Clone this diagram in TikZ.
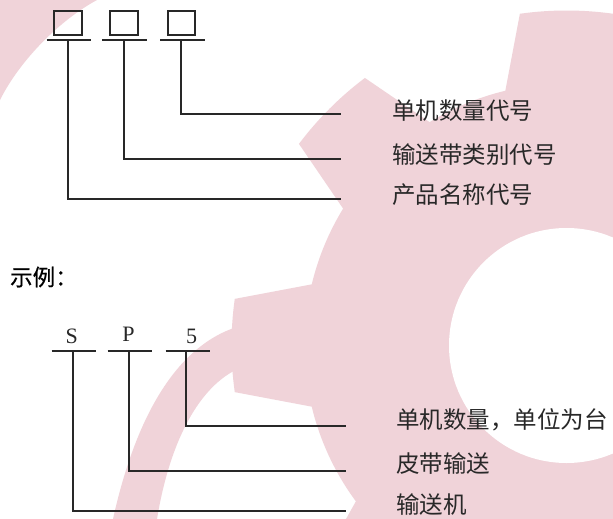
\documentclass[tikz,border=0pt]{standalone}
\usepackage{fontspec}
\setmainfont{Liberation Serif}
\newfontfamily\cjk{Noto Sans CJK SC}
\newfontfamily\cjkh{Noto Sans CJK SC}[FakeBold=0.6]
\definecolor{wm}{RGB}{240,211,217}
\definecolor{ink}{RGB}{40,40,40}
\begin{document}
\begin{tikzpicture}[x=1pt,y=-1pt,
  ln/.style={draw=ink,line width=1.9pt},
  codebox/.style={draw=ink,line width=2pt,minimum width=27.5pt,minimum height=24.5pt,inner sep=0pt},
  lbl/.style={anchor=west,inner sep=0pt,text=ink,font={\cjk\fontsize{23.5}{28}\selectfont}},
  letter/.style={anchor=base,inner sep=0pt,text=ink,font={\fontsize{22}{26}\selectfont}},
  head/.style={anchor=west,inner sep=0pt,text=black,font={\cjkh\fontsize{22.5}{27}\selectfont}}]
\useasboundingbox (0,0) rectangle (613,519);
\fill[white] (0,0) rectangle (613,519);
% watermark
\begin{scope}
\clip (0,0) rectangle (613,519);
\fill[wm] (0,0) -- (97,0) .. controls (60,20) and (20,60) .. (0,100) -- cycle;
\fill[wm] (113,519) .. controls (135,420) and (175,345) .. (240,326) -- (240,368) .. controls (200,385) and (170,440) .. (157,519) -- cycle;
\begin{scope}[shift={(566.5,345.5)},yscale=-1]
\fill[wm] (76.5:262) \foreach \a/\b in {90/135,135/180,180/230,230/270,270/315,315/360,360/405,405/450} { -- ({\a-8}:335) arc[start angle={\a-8}, end angle={\a+8}, radius=335] -- ({\a+13.5}:262) arc[start angle={\a+13.5}, end angle={\b-13.5}, radius=262] } -- cycle;
\fill[white] (0,0) circle[radius=117.5];
\end{scope}
\end{scope}
% top scheme
\node[codebox] (b1) at (67.8,23) {};
\node[codebox] (b2) at (123.8,23) {};
\node[codebox] (b3) at (181.6,23) {};
\draw[ln] (46.7,40) -- (90.7,40);
\draw[ln] (102.3,40) -- (146.7,40);
\draw[ln] (160.3,40) -- (204.7,40);
\coordinate (v1) at (68.3,40);
\coordinate (v2) at (124.3,40);
\coordinate (v3) at (180.7,40);
\coordinate (e3) at (341,114.3);
\coordinate (e2) at (341,158.7);
\coordinate (e1) at (341,199.3);
\draw[ln] (v3) |- (e3);
\draw[ln] (v2) |- (e2);
\draw[ln] (v1) |- (e1);
\node[lbl] (t3) at (392,111) {单机数量代号};
\node[lbl] (t2) at (392,154.5) {输送带类别代号};
\node[lbl] (t1) at (392,195) {产品名称代号};
% example
\node[head] (ex) at (10,277) {示例：};
\node[letter] (s) at (71.7,343.5) {S};
\node[letter] (p) at (128.4,341.5) {P};
\node[letter] (n5) at (191.7,343.5) {5};
\draw[ln] (51.7,350.7) -- (96,350.7);
\draw[ln] (107.7,350.7) -- (152.3,350.7);
\draw[ln] (165.7,350.7) -- (210,350.7);
\coordinate (w1) at (73.3,350.7);
\coordinate (w2) at (129.3,350.7);
\coordinate (w3) at (185.7,350.7);
\coordinate (f3) at (346,426);
\coordinate (f2) at (346,470.7);
\coordinate (f1) at (346,510.7);
\draw[ln] (w3) |- (f3);
\draw[ln] (w2) |- (f2);
\draw[ln] (w1) |- (f1);
\node[lbl] (r3) at (396,420) {单机数量，单位为台};
\node[lbl] (r2) at (396,464) {皮带输送};
\node[lbl] (r1) at (396,505) {输送机};
\end{tikzpicture}
\end{document}
